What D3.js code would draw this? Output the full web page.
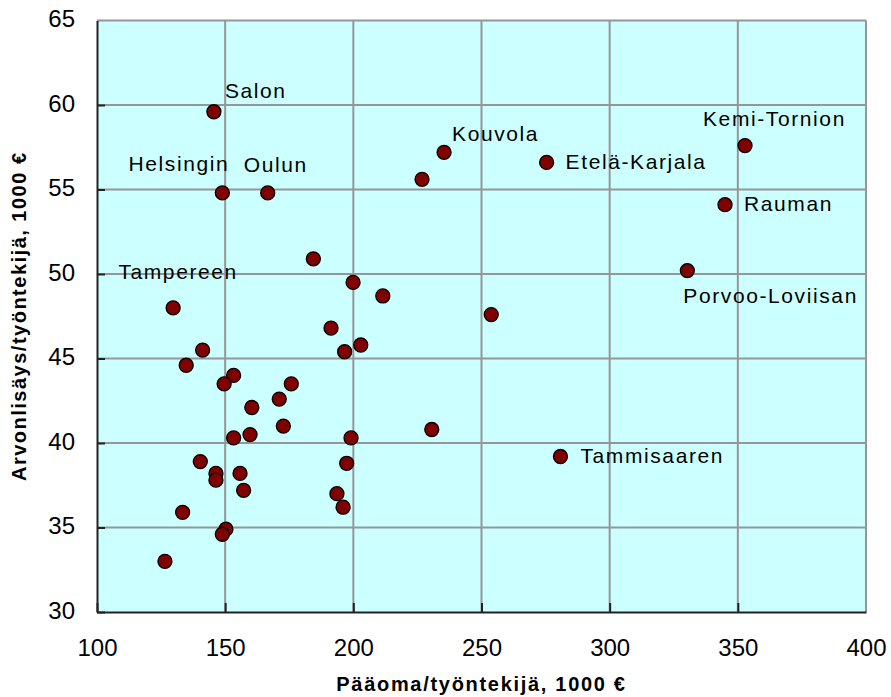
<!DOCTYPE html>
<html>
<head>
<meta charset="utf-8">
<script src="https://cdn.jsdelivr.net/npm/d3@7"></script>
<style>
  body { margin: 0; background: #fff; }
  svg { display: block; font-family: "Liberation Sans", Arial, sans-serif; }
</style>
</head>
<body>
<div id="chart"></div>
<script>
// region names (empty = no label)
const regions = ["Salon", "Helsingin", "Oulun", "Tampereen", "Kouvola", "Etelä-Karjala",
    "Kemi-Tornion", "Rauman", "Porvoo-Loviisan", "Tammisaaren",
    "", "", "", "", "", "", "", "", "", "", "", "", "", "", "", "",
    "", "", "", "", "", "", "", "", "", "", "", "", "", "", "", ""];

// Pääoma/työntekijä, 1000 €
const capital = [145.6, 148.9, 166.6, 129.7, 235.4, 275.4, 352.8, 345.0, 330.3, 280.8,
    226.8, 184.4, 199.9, 211.5, 253.8, 191.3, 202.9, 196.6, 141.2, 134.8, 153.3,
    149.6, 175.8, 171.1, 160.4, 172.7, 159.7, 153.3, 199.1, 230.6, 140.3, 197.4,
    146.4, 155.8, 146.4, 157.2, 193.6, 196.0, 133.4, 150.3, 148.9, 126.5];

// Arvonlisäys/työntekijä, 1000 €
const valueAdded = [59.6, 54.8, 54.8, 48.0, 57.2, 56.6, 57.6, 54.1, 50.2, 39.2,
    55.6, 50.9, 49.5, 48.7, 47.6, 46.8, 45.8, 45.4, 45.5, 44.6, 44.0,
    43.5, 43.5, 42.6, 42.1, 41.0, 40.5, 40.3, 40.3, 40.8, 38.9, 38.8,
    38.2, 38.2, 37.8, 37.2, 37.0, 36.2, 35.9, 34.9, 34.6, 33.0];

const xTicks = [100, 150, 200, 250, 300, 350, 400];
const yTicks = [30, 35, 40, 45, 50, 55, 60, 65];

const xTitle = "Pääoma/työntekijä, 1000 €";
const yTitle = "Arvonlisäys/työntekijä, 1000 €";

// where each label sits relative to its point
const labelPlace = {
    "Salon": ["start", 11, -14],
    "Helsingin": ["end", 7, -22],
    "Oulun": ["start", -24, -21],
    "Tampereen": ["middle", 5, -29],
    "Kouvola": ["start", 8, -11],
    "Etelä-Karjala": ["start", 19, 7],
    "Kemi-Tornion": ["start", -42, -20],
    "Rauman": ["start", 19, 6],
    "Porvoo-Loviisan": ["start", -4, 32],
    "Tammisaaren": ["start", 20, 6]
};

const width = 891, height = 697;
const plotL = 97, plotR = 866, plotT = 20.5, plotB = 612;

const svg = d3.select("#chart").append("svg")
    .attr("width", width)
    .attr("height", height);

const x = d3.scaleLinear().domain([100, 400]).range([plotL, plotR]);
const y = d3.scaleLinear().domain([30, 65]).range([plotB, plotT]);

// plot background
svg.append("rect")
    .attr("x", plotL).attr("y", plotT)
    .attr("width", plotR - plotL).attr("height", plotB - plotT)
    .attr("fill", "#ccffff");

// grid
const grid = svg.append("g").attr("stroke", "#969696").attr("stroke-width", 2);
grid.selectAll(".vg")
    .data(xTicks.slice(1))
    .join("line")
    .attr("class", "vg")
    .attr("x1", d => x(d)).attr("x2", d => x(d))
    .attr("y1", plotT).attr("y2", plotB);
grid.selectAll(".hg")
    .data(yTicks.slice(1))
    .join("line")
    .attr("class", "hg")
    .attr("x1", plotL).attr("x2", plotR)
    .attr("y1", d => y(d)).attr("y2", d => y(d));

// axes
const xAxis = svg.append("g")
    .attr("transform", `translate(0,${plotB})`)
    .call(d3.axisBottom(x).tickValues(xTicks).tickSize(-9).tickSizeOuter(0));
const yAxis = svg.append("g")
    .attr("transform", `translate(${plotL},0)`)
    .call(d3.axisLeft(y).tickValues(yTicks).tickSize(-8).tickSizeOuter(0));

[xAxis, yAxis].forEach(ax => {
    ax.select(".domain").attr("stroke", "#222").attr("stroke-width", 2);
    ax.selectAll(".tick line").attr("stroke", "#222").attr("stroke-width", 2);
    ax.selectAll(".tick text")
        .attr("fill", "#000")
        .style("font-size", "24px")
        .style("font-family", "'Liberation Sans', Arial, sans-serif");
});
xAxis.selectAll(".tick text").attr("dy", 0).attr("y", 44);
yAxis.selectAll(".tick text").attr("dy", 6).attr("x", -22);
yAxis.select(".tick:last-of-type line").remove();
xAxis.select(".tick:last-of-type line").remove();

// points
svg.append("g")
    .selectAll("circle")
    .data(capital.map((c, i) => ({ c, v: valueAdded[i], name: regions[i] })))
    .join("circle")
    .attr("cx", d => x(d.c))
    .attr("cy", d => y(d.v))
    .attr("r", 7)
    .attr("fill", "#800000")
    .attr("stroke", "#000")
    .attr("stroke-width", 1.3);

// point labels
svg.append("g")
    .selectAll("text")
    .data(regions.map((n, i) => ({ n, c: capital[i], v: valueAdded[i] })).filter(d => d.n))
    .join("text")
    .attr("x", d => x(d.c) + labelPlace[d.n][1])
    .attr("y", d => y(d.v) + labelPlace[d.n][2])
    .attr("text-anchor", d => labelPlace[d.n][0])
    .style("font-size", "21px")
    .style("letter-spacing", "1.6px")
    .attr("fill", "#000")
    .text(d => d.n);

// axis titles
svg.append("text")
    .attr("x", (plotL + plotR) / 2)
    .attr("y", 691)
    .attr("text-anchor", "middle")
    .style("font-size", "20px")
    .style("font-weight", "bold")
    .style("letter-spacing", "1.7px")
    .text(xTitle);

svg.append("text")
    .attr("transform", `translate(26,${(plotT + plotB) / 2}) rotate(-90)`)
    .attr("text-anchor", "middle")
    .style("font-size", "20px")
    .style("font-weight", "bold")
    .style("letter-spacing", "1.5px")
    .text(yTitle);
</script>
</body>
</html>
